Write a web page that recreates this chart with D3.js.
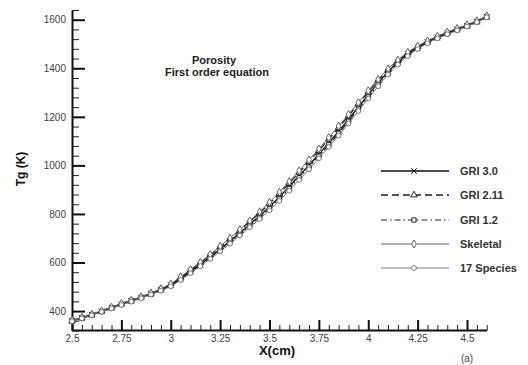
<!DOCTYPE html>
<html><head><meta charset="utf-8">
<script src="https://cdn.jsdelivr.net/npm/d3@7"></script>
<style>body{margin:0;background:#fff}svg{display:block}</style>
</head><body>
<script>
const xs = [2.5,2.55,2.6,2.65,2.7,2.75,2.8,2.85,2.9,2.95,3.0,3.05,3.1,3.15,3.2,3.25,3.3,3.35,3.4,3.45,3.5,3.55,3.6,3.65,3.7,3.75,3.8,3.85,3.9,3.95,4.0,4.05,4.1,4.15,4.2,4.25,4.3,4.35,4.4,4.45,4.5,4.55,4.6];
const gri30 = [360,372,385,399,414,428,442,456,471,488,507,534,563,592,623,655,688,722,757,792,830,870,913,957,1001,1046,1093,1140,1190,1240,1290,1340,1386,1425,1458,1485,1508,1527,1544,1560,1575,1592,1612];
const gri211 = [361,373,386,400,415,430,444,458,473,491,511,539,569,599,631,664,697,732,768,804,843,884,927,971,1016,1061,1108,1155,1204,1253,1302,1350,1394,1431,1463,1489,1511,1530,1547,1562,1577,1594,1614];
const gri12 = [359,371,384,398,413,427,441,455,470,487,505,531,560,589,619,651,684,717,751,786,823,862,905,949,993,1038,1085,1132,1182,1232,1282,1333,1380,1420,1454,1482,1506,1525,1542,1558,1574,1591,1611];
const skeletal = [362,374,387,401,416,431,445,459,474,492,512,541,571,601,633,667,701,736,772,809,848,890,934,978,1023,1068,1115,1162,1210,1259,1308,1355,1398,1434,1466,1491,1513,1532,1549,1564,1579,1596,1616];
const species17 = [358,370,383,397,411,425,439,453,468,484,502,528,556,585,615,646,678,711,745,779,815,854,896,940,984,1029,1076,1123,1173,1224,1275,1326,1374,1415,1450,1479,1503,1523,1540,1556,1572,1590,1610];
const seriesNames = ["GRI 3.0","GRI 2.11","GRI 1.2","Skeletal","17 Species"];
const seriesValues = [gri30, gri211, gri12, skeletal, species17];
const xTicks = [2.5,2.75,3,3.25,3.5,3.75,4,4.25,4.5];
const xTickLabels = ["2.5","2.75","3","3.25","3.5","3.75","4","4.25","4.5"];
const yTicks = [400,600,800,1000,1200,1400,1600];
const yTickLabels = ["400","600","800","1000","1200","1400","1600"];

const styles = [
  {dash:null, color:"#111", width:1.4, sym:"cross"},
  {dash:"7,4", color:"#222", width:1.3, sym:"triangle"},
  {dash:"6,3,1.5,3", color:"#222", width:1.2, sym:"square"},
  {dash:null, color:"#666", width:1.0, sym:"diamond"},
  {dash:null, color:"#777", width:1.0, sym:"circle"}
];

const W=528,H=365;
const svg=d3.select("body").append("svg").attr("width",W).attr("height",H);
const x=d3.scaleLinear().domain([2.5,4.6]).range([72,486.75]);
const y=d3.scaleLinear().domain([320,1640]).range([330.5,10]);

const font="Liberation Sans, Arial, sans-serif";

// minor ticks
const xMinor=d3.range(2.5,4.6001,0.05).map(v=>+v.toFixed(2));
const yMinor=d3.range(320,1640.1,40);
svg.append("g").attr("transform","translate(0,330)")
  .call(d3.axisBottom(x).tickValues(xMinor).tickSize(-5).tickFormat(""))
  .call(g=>{g.select(".domain").remove();g.selectAll("line").attr("stroke","#222").attr("stroke-width",1);});
svg.append("g").attr("transform","translate(72,0)")
  .call(d3.axisLeft(y).tickValues(yMinor).tickSize(-7).tickFormat(""))
  .call(g=>{g.select(".domain").remove();g.selectAll("line").attr("stroke","#222").attr("stroke-width",1);});

// major axes
const xAxis=svg.append("g").attr("transform","translate(0,330)")
  .call(d3.axisBottom(x).tickValues(xTicks).tickSizeInner(-10).tickSizeOuter(0).tickPadding(5)
    .tickFormat((d,i)=>xTickLabels[i]));
xAxis.select(".domain").attr("stroke","#111").attr("stroke-width",2);
xAxis.selectAll(".tick line").attr("stroke","#111").attr("stroke-width",2);
xAxis.selectAll("text").attr("font-family",font).attr("font-size",10).attr("fill","#444");

const yAxis=svg.append("g").attr("transform","translate(72,0)")
  .call(d3.axisLeft(y).tickValues(yTicks).tickSizeInner(-13).tickSizeOuter(0).tickPadding(6)
    .tickFormat((d,i)=>yTickLabels[i]));
yAxis.select(".domain").attr("stroke","#111").attr("stroke-width",2);
yAxis.selectAll(".tick line").attr("stroke","#111").attr("stroke-width",2);
yAxis.selectAll("text").attr("font-family",font).attr("font-size",10).attr("fill","#444");

// symbols
const symMap={cross:d3.symbolX,triangle:d3.symbolTriangle,square:d3.symbolSquare,diamond:d3.symbolDiamond,circle:d3.symbolCircle};
function drawSym(g,cx,cy,st){
  g.append("path").attr("d",d3.symbol().type(symMap[st.sym]).size(st.sym==="cross"?22:18)())
    .attr("transform",`translate(${cx},${cy})`)
    .attr("fill",st.sym==="cross"?"none":"#fff").attr("stroke",st.color).attr("stroke-width",1);
}

const line=d3.line().x((d,i)=>x(xs[i])).y(d=>y(d)).curve(d3.curveMonotoneX);
const plot=svg.append("g");
seriesValues.forEach((vals,s)=>{
  const st=styles[s];
  plot.append("path").attr("d",line(vals)).attr("fill","none").attr("stroke",st.color)
    .attr("stroke-width",st.width).attr("stroke-dasharray",st.dash);
});
seriesValues.forEach((vals,s)=>{
  const st=styles[s];
  const mg=plot.append("g");
  vals.forEach((v,i)=>drawSym(mg,x(xs[i]),y(v),st));
});

// legend
const legY=[171,195,220,244,268];
seriesNames.forEach((n,s)=>{
  const st=styles[s];
  const g=svg.append("g");
  g.append("line").attr("x1",381).attr("x2",449).attr("y1",legY[s]).attr("y2",legY[s])
    .attr("stroke",st.color).attr("stroke-width",st.width).attr("stroke-dasharray",st.dash);
  drawSym(g,414,legY[s],st);
  g.append("text").attr("x",460).attr("y",legY[s]+4).text(n)
    .attr("font-family",font).attr("font-size",11).attr("font-weight","bold").attr("fill","#333");
});

// annotation
svg.append("text").attr("x",214).attr("y",64).attr("text-anchor","middle").text("Porosity")
  .attr("font-family",font).attr("font-size",11).attr("font-weight","bold").attr("fill","#222");
svg.append("text").attr("x",217).attr("y",76).attr("text-anchor","middle").text("First order equation")
  .attr("font-family",font).attr("font-size",11).attr("font-weight","bold").attr("fill","#222");

// axis titles
svg.append("text").attr("x",277).attr("y",355).attr("text-anchor","middle").text("X(cm)")
  .attr("font-family",font).attr("font-size",13).attr("font-weight","bold").attr("fill","#111");
svg.append("text").attr("transform","translate(25,169) rotate(-90)").attr("text-anchor","middle").text("Tg (K)")
  .attr("font-family",font).attr("font-size",12).attr("font-weight","bold").attr("fill","#111");
svg.append("text").attr("x",467).attr("y",362).attr("text-anchor","middle").text("(a)")
  .attr("font-family",font).attr("font-size",10).attr("fill","#444");
</script>
</body></html>
